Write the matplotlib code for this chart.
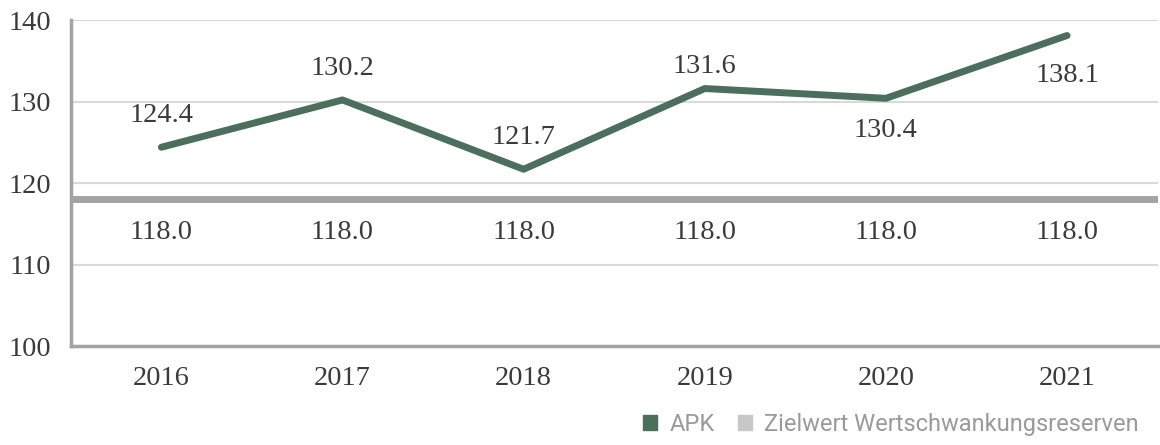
import matplotlib.pyplot as plt
from matplotlib.patches import Patch

years = ["2016", "2017", "2018", "2019", "2020", "2021"]
apk = [124.4, 130.2, 121.7, 131.6, 130.4, 138.1]
zielwert = [118.0, 118.0, 118.0, 118.0, 118.0, 118.0]

green = "#4b6f5c"
grey = "#a3a3a3"
serif = "Liberation Serif"
txt = "#3a3a3a"

fig = plt.figure(figsize=(11.6, 4.45), dpi=100)
ax = fig.add_axes([0.061, 0.222, 0.937, 0.733])

x = list(range(len(years)))

ax.grid(axis="y", color="#d9d9d9", linewidth=1.5)
ax.set_axisbelow(True)

# Zielwert as a horizontal line spanning the whole plot
ax.plot([-0.5] + x + [5.5], [zielwert[0]] + zielwert + [zielwert[-1]],
        color=grey, linewidth=5, solid_capstyle="butt")
ax.plot(x, apk, color=green, linewidth=5, solid_capstyle="round")

# label offsets in pixels (negative = below)
apk_off = [32, 31, 32, 22, -32, -40]
for xi, v, off in zip(x, apk, apk_off):
    ax.annotate(f"{v:.1f}", (xi, v), xytext=(0, off), textcoords="offset pixels",
                ha="center", va="center", fontsize=20.5, family=serif, color=txt)
for xi, v in zip(x, zielwert):
    ax.annotate(f"{v:.1f}", (xi, v), xytext=(0, -33), textcoords="offset pixels",
                ha="center", va="center", fontsize=20.5, family=serif, color=txt)

ax.set_xlim(-0.5, 5.5)
ax.set_ylim(100, 140)
ax.set_yticks([100, 110, 120, 130, 140])
ax.set_xticks(x)
ax.set_xticklabels(years)
for lbl in ax.get_xticklabels() + ax.get_yticklabels():
    lbl.set_family(serif)
    lbl.set_fontsize(20.5)
    lbl.set_color(txt)
ax.tick_params(axis="both", length=0)
ax.tick_params(axis="y", pad=14)
ax.tick_params(axis="x", pad=14)

for s in ["top", "right"]:
    ax.spines[s].set_visible(False)
for s in ["left", "bottom"]:
    ax.spines[s].set_color(grey)
    ax.spines[s].set_linewidth(2.5)

handles = [Patch(color=green, label="APK"),
           Patch(color="#c8c8c8", label="Zielwert Wertschwankungsreserven")]
leg = fig.legend(handles=handles, loc="lower right", bbox_to_anchor=(1.0, -0.028),
                 ncol=2, frameon=False, handlelength=0.6, handleheight=0.6,
                 handletextpad=0.5, columnspacing=1.0,
                 prop={"family": "Roboto", "size": 17})
for t in leg.get_texts():
    t.set_color("#9a9a9a")

fig.savefig("out.png", dpi=100)
